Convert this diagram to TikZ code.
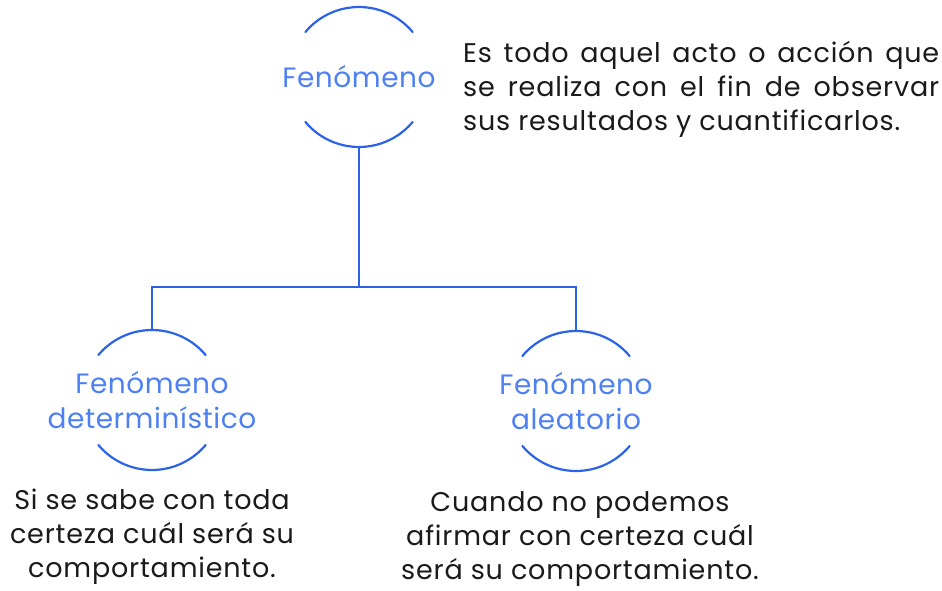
\documentclass[tikz,border=0pt]{standalone}
\usepackage{fontspec}
\setmainfont{Poppins}
\usepackage{tikz}
\usetikzlibrary{positioning}
\definecolor{arcblue}{HTML}{2B62E8}
\definecolor{labelblue}{HTML}{4E80F2}
\definecolor{bodyblack}{HTML}{1A1A1A}

\begin{document}
\begin{tikzpicture}[
  x=1pt, y=1pt,
  phen/.style={inner sep=0pt, align=center,
               font=\fontsize{28}{35}\selectfont\addfontfeatures{LetterSpace=2}\color{labelblue}},
  desc/.style={align=center, inner sep=0pt,
               font=\fontsize{27}{34}\selectfont\addfontfeatures{LetterSpace=3}\color{bodyblack}},
  conn/.style={draw=arcblue, line width=2pt},
  half/.style={draw=arcblue, line width=2.2pt, line cap=round}
]
  \useasboundingbox (0,0) rectangle (942,590);

  \node[phen] (fen) at (359,513) {Fenómeno};
  \node[phen] (det) at (152,190) {Fenómeno\\determinístico};
  \node[phen] (ale) at (576,189) {Fenómeno\\aleatorio};

  % arcs above and below each label, plus their top and bottom points
  \foreach \n in {fen,det,ale}{
    \draw[half] ([shift={(40:70pt)}]\n.center) arc[start angle=40, end angle=140, radius=70pt];
    \draw[half] ([shift={(220:70pt)}]\n.center) arc[start angle=220, end angle=320, radius=70pt];
    \coordinate (\n-top) at ([yshift=70pt]\n.center);
    \coordinate (\n-bot) at ([yshift=-70pt]\n.center);
  }

  \coordinate (bus) at (359,303);
  \draw[conn] (fen-bot) -- (bus);
  \draw[conn] (bus) -| (det-top);
  \draw[conn] (bus) -| (ale-top);

  \node[desc, align=justify, text width=476pt, anchor=west] (fendef) at (463,501)
    {Es todo aquel acto o acción que\linebreak se realiza con el fin de observar\linebreak sus resultados y cuantificarlos.};
  \node[desc] (detdef) at (152,53) {Si se sabe con toda\\certeza cuál será su\\comportamiento.};
  \node[desc] (aledef) at (580,51) {Cuando no podemos\\afirmar con certeza cuál\\será su comportamiento.};
\end{tikzpicture}
\end{document}
